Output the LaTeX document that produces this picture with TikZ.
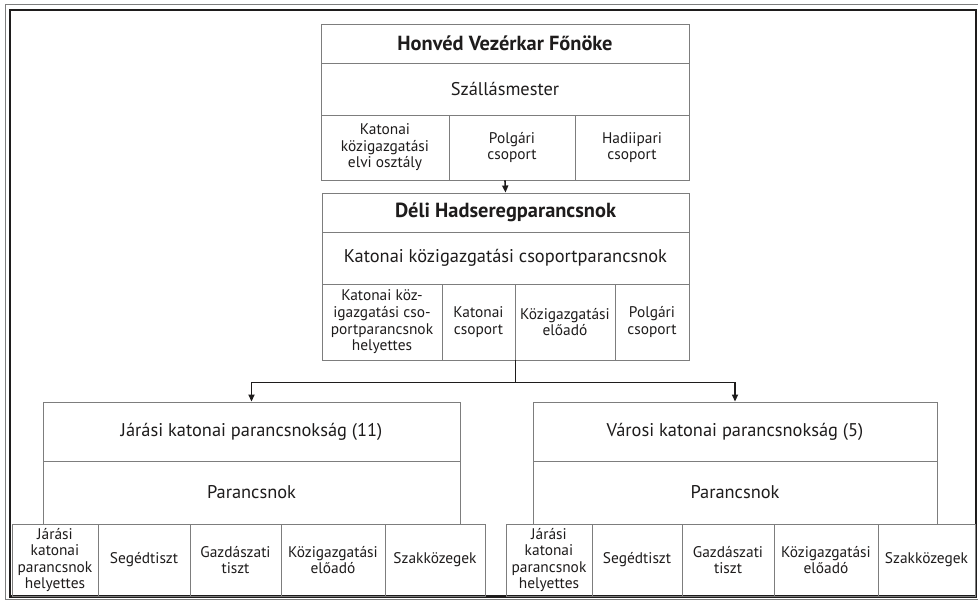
\documentclass[tikz,border=0pt]{standalone}
\usepackage{fontspec}
\setmainfont{PT Sans}
\usetikzlibrary{arrows.meta,calc}
\definecolor{boxgray}{RGB}{125,125,125}
\definecolor{ink}{RGB}{30,28,28}
\newcommand\bx[7]{\node[#6,minimum width={(#4-#2)*1pt},minimum height={(#5-#3)*1pt}] (#1) at ({(#2+#4)/2},{(#3+#5)/2}) {#7};}
\begin{document}
\begin{tikzpicture}[x=1pt,y=-1pt,
  base/.style={draw=boxgray, line width=0.9pt, inner sep=0pt, align=center, text=ink},
  title/.style={base, font=\fontsize{20.4}{23}\selectfont\bfseries},
  big/.style={base, font=\fontsize{18.4}{21}\selectfont},
  small/.style={base, font=\fontsize{15.4}{16.6}\selectfont},
  conn/.style={draw=ink, line width=1.6pt},
  arr/.style={conn, -{Triangle[length=7pt,width=6pt]}}]
\useasboundingbox (0,0) rectangle (978,600);
\fill[white] (0,0) rectangle (978,600);
\draw[boxgray, line width=0.9pt] (5,4.5) rectangle (982,599);
\draw[ink, line width=2.6pt] (9.8,10) rectangle (976,596.5);

% top box
\bx{A1}{321}{24}{689}{63}{title}{Honvéd Vezérkar Főnöke}
\bx{A2}{321}{63}{689}{115}{big}{Szállásmester}
\bx{A3a}{321}{115}{449}{180}{small}{Katonai\\közigazgatási\\elvi osztály}
\bx{A3b}{449}{115}{575}{180}{small}{Polgári\\csoport}
\bx{A3c}{575}{115}{689}{180}{small}{Hadiipari\\csoport}

% second box
\bx{B1}{322}{193}{689}{232}{title}{Déli Hadseregparancsnok}
\bx{B2}{322}{232}{689}{284}{big}{Katonai közigazgatási csoportparancsnok}
\bx{B3a}{322}{284}{442}{360}{small}{Katonai köz-\\igazgatási cso-\\portparancsnok\\helyettes}
\bx{B3b}{442}{284}{515}{360}{small}{Katonai\\csoport}
\bx{B3c}{515}{284}{615}{360}{small}{Közigazgatási\\előadó}
\bx{B3d}{615}{284}{689}{360}{small}{Polgári\\csoport}

% left box
\bx{C1}{43}{402}{460}{461}{big}{Járási katonai parancsnokság (11)}
\bx{C2}{43}{461}{460}{524}{big}{Parancsnok}
\bx{C3a}{12}{524}{98}{596}{small}{Járási\\katonai\\parancsnok\\helyettes}
\bx{C3b}{98}{524}{190}{596}{small}{Segédtiszt}
\bx{C3c}{190}{524}{281}{596}{small}{Gazdászati\\tiszt}
\bx{C3d}{281}{524}{385}{596}{small}{Közigazgatási\\előadó}
\bx{C3e}{385}{524}{485}{596}{small}{Szakközegek}

% right box
\bx{D1}{533}{402}{937}{461}{big}{Városi katonai parancsnokság (5)}
\bx{D2}{533}{461}{937}{524}{big}{Parancsnok}
\bx{D3a}{506}{524}{592}{596}{small}{Járási\\katonai\\parancsnok\\helyettes}
\bx{D3b}{592}{524}{682}{596}{small}{Segédtiszt}
\bx{D3c}{682}{524}{774}{596}{small}{Gazdászati\\tiszt}
\bx{D3d}{774}{524}{878}{596}{small}{Közigazgatási\\előadó}
\bx{D3e}{878}{524}{975}{596}{small}{Szakközegek}

% connectors
\draw[arr] (A2.center |- A3b.south) -- (B1.north);
\coordinate (split) at ($(B3c.south west)+(1,22)$);
\draw[conn] (B3c.south west) ++(1,0) -- (split);
\draw[arr] (split) -| (C1.north);
\draw[arr] (split) -| (D1.north);
\end{tikzpicture}
\end{document}
